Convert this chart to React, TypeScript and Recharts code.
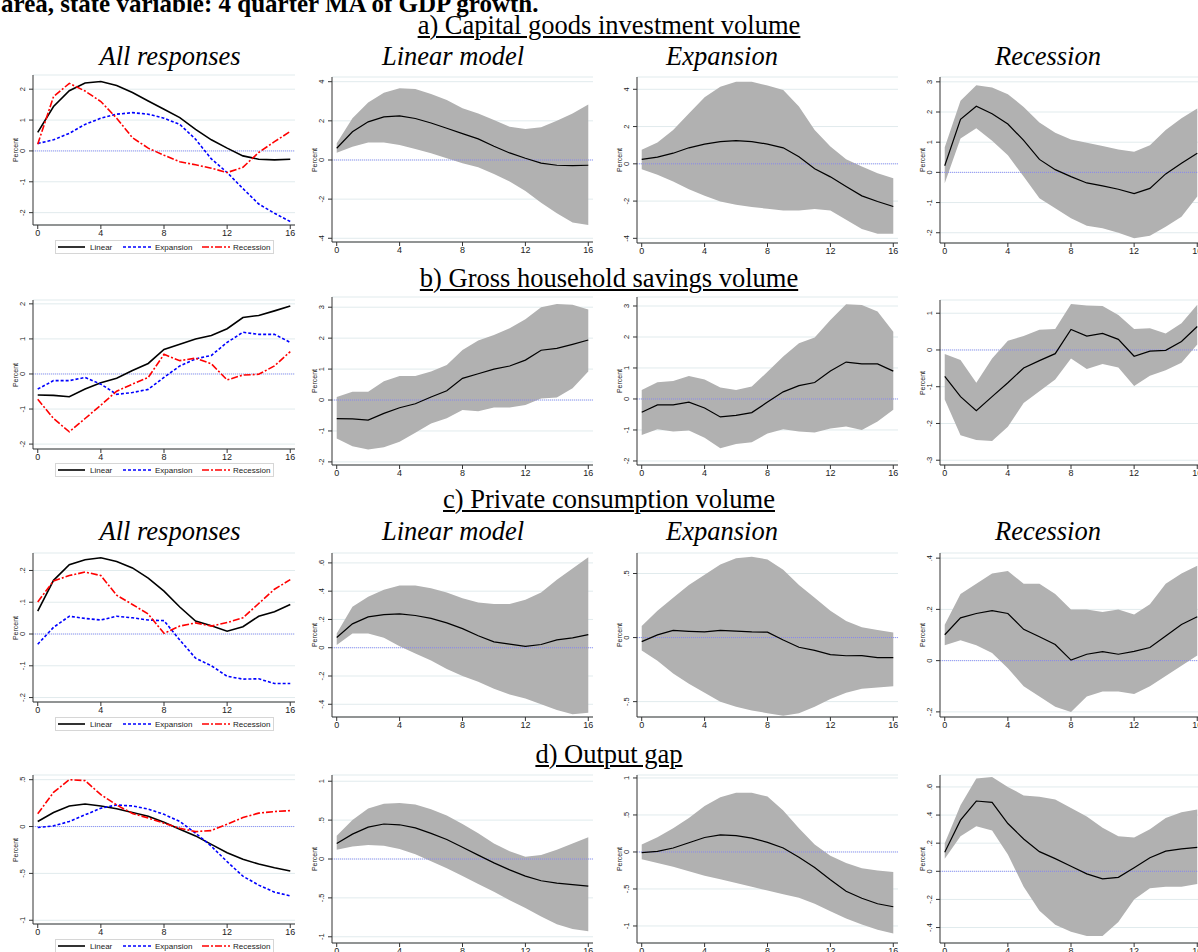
import React from 'react'
import { ComposedChart, Line, Area, XAxis, YAxis, CartesianGrid, ReferenceLine } from 'recharts'

// quarters after the shock
const horizon = [0, 1, 2, 3, 4, 5, 6, 7, 8, 9, 10, 11, 12, 13, 14, 15, 16]
const xTicks = [0, 4, 8, 12, 16]

// a) capital goods investment volume
const capLin = [0.6, 1.44, 1.95, 2.2, 2.25, 2.12, 1.89, 1.62, 1.35, 1.08, 0.7, 0.36, 0.09, -0.16, -0.27, -0.29, -0.27]
const capLinLo = [0.37, 0.68, 0.89, 0.89, 0.77, 0.56, 0.34, 0.09, -0.17, -0.37, -0.71, -1.1, -1.58, -2.18, -2.72, -3.2, -3.32]
const capLinHi = [0.85, 2.13, 2.94, 3.44, 3.66, 3.63, 3.37, 3.06, 2.64, 2.38, 2.04, 1.7, 1.58, 1.67, 2.0, 2.38, 2.84]
const capExp = [0.24, 0.36, 0.57, 0.86, 1.06, 1.19, 1.24, 1.19, 1.06, 0.86, 0.38, -0.26, -0.7, -1.22, -1.72, -2.02, -2.29]
const capExpLo = [-0.29, -0.59, -0.95, -1.36, -1.71, -2.02, -2.2, -2.32, -2.41, -2.5, -2.5, -2.43, -2.5, -3.0, -3.5, -3.75, -3.75]
const capExpHi = [0.75, 1.14, 1.82, 2.7, 3.57, 4.14, 4.4, 4.4, 4.2, 3.96, 3.07, 1.82, 0.93, 0.25, -0.14, -0.5, -0.77]
const capRec = [0.22, 1.76, 2.19, 1.94, 1.6, 1.06, 0.43, 0.09, -0.14, -0.35, -0.45, -0.56, -0.7, -0.53, -0.05, 0.3, 0.63]
const capRecLo = [-0.36, 1.12, 1.46, 1.05, 0.57, -0.14, -0.86, -1.19, -1.52, -1.77, -1.85, -2.0, -2.18, -2.1, -1.8, -1.47, -0.8]
const capRecHi = [0.83, 2.37, 2.89, 2.81, 2.59, 2.17, 1.65, 1.31, 1.09, 0.98, 0.87, 0.76, 0.68, 0.9, 1.4, 1.79, 2.12]

// b) gross household savings volume
const savLin = [-0.6, -0.61, -0.65, -0.43, -0.25, -0.12, 0.1, 0.3, 0.7, 0.85, 1.0, 1.1, 1.29, 1.61, 1.67, 1.8, 1.94]
const savLinLo = [-1.24, -1.49, -1.6, -1.53, -1.35, -1.06, -0.76, -0.59, -0.32, -0.36, -0.24, -0.24, -0.16, 0.05, 0.08, 0.38, 0.92]
const savLinHi = [0.1, 0.27, 0.27, 0.61, 0.78, 0.78, 0.92, 1.13, 1.62, 1.92, 2.1, 2.32, 2.61, 3.0, 3.1, 3.08, 2.93]
const savExp = [-0.43, -0.19, -0.19, -0.1, -0.29, -0.58, -0.53, -0.44, -0.1, 0.23, 0.43, 0.53, 0.9, 1.19, 1.13, 1.13, 0.9]
const savExpLo = [-1.16, -0.98, -1.05, -1.02, -1.25, -1.59, -1.45, -1.4, -1.11, -0.98, -1.05, -1.08, -0.95, -0.89, -1.0, -0.73, -0.35]
const savExpHi = [0.29, 0.54, 0.58, 0.74, 0.63, 0.37, 0.29, 0.4, 0.88, 1.37, 1.8, 1.98, 2.55, 3.06, 3.03, 2.82, 2.17]
const savRec = [-0.72, -1.27, -1.65, -1.27, -0.89, -0.49, -0.29, -0.1, 0.56, 0.38, 0.45, 0.29, -0.17, -0.03, -0.01, 0.23, 0.64]
const savRecLo = [-1.35, -2.32, -2.45, -2.48, -2.09, -1.44, -1.12, -0.8, -0.23, -0.52, -0.38, -0.48, -0.98, -0.7, -0.55, -0.35, 0.15]
const savRecHi = [-0.11, -0.27, -0.89, -0.23, 0.25, 0.38, 0.55, 0.57, 1.25, 1.21, 1.2, 0.95, 0.57, 0.59, 0.45, 0.73, 1.23]

// c) private consumption volume
const conLin = [0.072, 0.169, 0.218, 0.234, 0.24, 0.228, 0.208, 0.176, 0.135, 0.085, 0.041, 0.026, 0.009, 0.023, 0.056, 0.07, 0.093]
const conLinLo = [0.02, 0.1, 0.1, 0.07, 0.01, -0.04, -0.09, -0.15, -0.2, -0.24, -0.29, -0.33, -0.36, -0.4, -0.44, -0.47, -0.46]
const conLinHi = [0.1, 0.29, 0.36, 0.41, 0.44, 0.44, 0.42, 0.39, 0.35, 0.32, 0.31, 0.31, 0.34, 0.39, 0.48, 0.56, 0.64]
const conExp = [-0.032, 0.021, 0.056, 0.049, 0.044, 0.056, 0.051, 0.044, 0.042, -0.019, -0.076, -0.1, -0.133, -0.142, -0.141, -0.156, -0.156]
const conExpLo = [-0.1, -0.18, -0.28, -0.36, -0.43, -0.5, -0.54, -0.57, -0.59, -0.61, -0.59, -0.54, -0.48, -0.43, -0.4, -0.39, -0.38]
const conExpHi = [0.09, 0.21, 0.31, 0.41, 0.49, 0.57, 0.62, 0.63, 0.61, 0.53, 0.41, 0.31, 0.21, 0.13, 0.08, 0.06, 0.04]
const conRec = [0.101, 0.167, 0.184, 0.195, 0.184, 0.122, 0.093, 0.063, 0.002, 0.025, 0.035, 0.025, 0.036, 0.051, 0.096, 0.141, 0.171]
const conRecLo = [0.06, 0.08, 0.06, 0.03, -0.03, -0.1, -0.14, -0.18, -0.2, -0.14, -0.12, -0.12, -0.13, -0.1, -0.06, -0.02, 0.02]
const conRecHi = [0.14, 0.26, 0.3, 0.34, 0.35, 0.3, 0.3, 0.26, 0.2, 0.2, 0.19, 0.2, 0.18, 0.22, 0.3, 0.34, 0.37]

// d) output gap
const gapLin = [0.054, 0.15, 0.22, 0.24, 0.22, 0.19, 0.15, 0.11, 0.046, -0.03, -0.1, -0.19, -0.28, -0.35, -0.4, -0.44, -0.475]
// linear-model panel of d) as read from its own axis
const gapLinModel = [0.2, 0.32, 0.41, 0.45, 0.44, 0.4, 0.33, 0.25, 0.15, 0.05, -0.05, -0.14, -0.22, -0.28, -0.31, -0.33, -0.35]
const gapLinLo = [0.12, 0.16, 0.18, 0.17, 0.13, 0.06, -0.03, -0.12, -0.22, -0.32, -0.42, -0.53, -0.63, -0.74, -0.84, -0.9, -0.93]
const gapLinHi = [0.3, 0.5, 0.65, 0.71, 0.72, 0.7, 0.64, 0.56, 0.45, 0.33, 0.2, 0.1, 0.03, 0.05, 0.12, 0.2, 0.28]
const gapExp = [-0.01, 0.007, 0.054, 0.125, 0.196, 0.23, 0.22, 0.186, 0.13, 0.054, -0.07, -0.21, -0.375, -0.53, -0.625, -0.7, -0.74]
const gapExpLo = [-0.1, -0.15, -0.2, -0.26, -0.32, -0.37, -0.42, -0.47, -0.52, -0.57, -0.62, -0.7, -0.8, -0.9, -0.98, -1.05, -1.1]
const gapExpHi = [0.1, 0.2, 0.32, 0.46, 0.62, 0.74, 0.8, 0.8, 0.75, 0.56, 0.32, 0.1, -0.05, -0.15, -0.22, -0.25, -0.27]
const gapRec = [0.136, 0.364, 0.5, 0.49, 0.34, 0.23, 0.14, 0.09, 0.036, -0.018, -0.054, -0.043, 0.025, 0.096, 0.143, 0.16, 0.17]
const gapRecLo = [0.09, 0.25, 0.32, 0.29, 0.12, -0.11, -0.28, -0.38, -0.43, -0.46, -0.46, -0.36, -0.2, -0.12, -0.11, -0.11, -0.09]
const gapRecHi = [0.2, 0.47, 0.66, 0.67, 0.6, 0.54, 0.53, 0.51, 0.45, 0.39, 0.31, 0.25, 0.24, 0.3, 0.38, 0.42, 0.44]

const makeAll = (lin: number[], exp: number[], rec: number[]) =>
  horizon.map((h, i) => ({ h, lin: lin[i], exp: exp[i], rec: rec[i] }))
const makeBand = (mid: number[], lo: number[], hi: number[]) =>
  horizon.map((h, i) => ({ h, mid: mid[i], band: [lo[i], hi[i]] }))

// stata style numbers: .2, -.5
const fmt = (v: number) => (v === 0 ? '0' : String(v).replace(/^(-?)0\./, '$1.'))

const SANS = 'Arial, "Liberation Sans", sans-serif'
const SERIF = '"Times New Roman", "Liberation Serif", serif'

function YTick(props: any) {
  const { x, y, payload } = props
  const bx = x - 3
  return (
    <text x={bx} y={y} transform={`rotate(-90 ${bx} ${y})`} textAnchor="middle" fontSize={7.5} fill="#222" fontFamily={SANS}>
      {fmt(payload.value)}
    </text>
  )
}

type PanelProps = {
  left: number
  top: number
  width: number
  height: number
  data: any[]
  domain: [number, number]
  ticks: number[]
  mode: 'all' | 'band'
}

function Panel({ left, top, width, height, data, domain, ticks, mode }: PanelProps) {
  const YW = 36, MT = 6, XH = 18, MR = 6
  return (
    <>
      <div style={{ position: 'absolute', left: left - YW, top: top - MT }}>
        <ComposedChart width={YW + width + MR} height={MT + height + XH} data={data} margin={{ top: MT, right: MR, bottom: 0, left: 0 }}>
          <CartesianGrid vertical={false} stroke="#e1ebed" />
          <XAxis dataKey="h" type="number" domain={[-0.3, 16.3]} ticks={xTicks} allowDataOverflow height={XH}
            tickSize={4} tickMargin={1} stroke="#333" tick={{ fontSize: 9, fill: '#222', fontFamily: SANS }} />
          <YAxis type="number" domain={domain} ticks={ticks} allowDataOverflow width={YW} interval={0}
            tickSize={4} tickMargin={1} stroke="#333" tick={<YTick />} />
          {mode === 'band' && (
            <Area dataKey="band" type="linear" stroke="none" fill="#b1b1b1" fillOpacity={1} isAnimationActive={false} />
          )}
          <ReferenceLine y={0} stroke="#7b7bff" strokeDasharray="1 1" strokeWidth={0.8} />
          {mode === 'band' && (
            <Line dataKey="mid" type="linear" stroke="#000" strokeWidth={1.2} dot={false} isAnimationActive={false} />
          )}
          {mode === 'all' && (
            <Line dataKey="lin" type="linear" stroke="#000" strokeWidth={1.6} dot={false} isAnimationActive={false} />
          )}
          {mode === 'all' && (
            <Line dataKey="exp" type="linear" stroke="#0000ff" strokeWidth={1.6} strokeDasharray="3 2" dot={false} isAnimationActive={false} />
          )}
          {mode === 'all' && (
            <Line dataKey="rec" type="linear" stroke="#ff0000" strokeWidth={1.6} strokeDasharray="7 2 2 2" dot={false} isAnimationActive={false} />
          )}
        </ComposedChart>
      </div>
      <div style={{
        position: 'absolute', left: left - 18, top: top + height / 2,
        transform: 'translate(-50%, -50%) rotate(-90deg)', fontFamily: SANS, fontSize: 7,
        color: '#222', whiteSpace: 'nowrap', lineHeight: '7px',
      }}>Percent</div>
    </>
  )
}

function SeriesKey({ top }: { top: number }) {
  return (
    <svg style={{ position: 'absolute', left: 55, top }} width={219} height={14}>
      <rect x={0.5} y={0.5} width={218} height={13} fill="#fff" stroke="#d6d6d6" />
      <line x1={3} x2={30} y1={7} y2={7} stroke="#000" strokeWidth={1.6} />
      <text x={35} y={10} fontSize={8} fontFamily={SANS} fill="#222">Linear</text>
      <line x1={68} x2={97} y1={7} y2={7} stroke="#0000ff" strokeWidth={1.6} strokeDasharray="3 2" />
      <text x={100} y={10} fontSize={8} fontFamily={SANS} fill="#222">Expansion</text>
      <line x1={147} x2={175} y1={7} y2={7} stroke="#ff0000" strokeWidth={1.6} strokeDasharray="7 2 2 2" />
      <text x={178} y={10} fontSize={8} fontFamily={SANS} fill="#222">Recession</text>
    </svg>
  )
}

function Heading({ text, top }: { text: string; top: number }) {
  return (
    <div style={{
      position: 'absolute', left: 609, top, transform: 'translateX(-50%)', whiteSpace: 'nowrap',
      fontFamily: SERIF, fontSize: 26.5, lineHeight: '26px', textDecoration: 'underline',
      textDecorationThickness: '1.8px', textUnderlineOffset: '2px', color: '#000',
    }}>{text}</div>
  )
}

function ColTitle({ text, x, top }: { text: string; x: number; top: number }) {
  return (
    <div style={{
      position: 'absolute', left: x, top, transform: 'translateX(-50%)', whiteSpace: 'nowrap',
      fontFamily: SERIF, fontStyle: 'italic', fontSize: 26.5, lineHeight: '26px', color: '#000',
    }}>{text}</div>
  )
}

const cols = [
  { left: 33, width: 262 },
  { left: 332, width: 261 },
  { left: 637, width: 261 },
  { left: 940, width: 262 },
]

export default function App() {
  return (
    <div style={{ position: 'absolute', left: 0, top: 0, width: 1198, height: 952, overflow: 'hidden', background: '#fff' }}>
      <div style={{
        position: 'absolute', left: 1, top: -9, whiteSpace: 'nowrap', fontFamily: SERIF, fontWeight: 'bold',
        fontSize: 25, lineHeight: '25px',
      }}>area, state variable: 4 quarter MA of GDP growth.</div>

      <Heading text="a) Capital goods investment volume" top={12} />
      <ColTitle text="All responses" x={170} top={43} />
      <ColTitle text="Linear model" x={453} top={43} />
      <ColTitle text="Expansion" x={722} top={43} />
      <ColTitle text="Recession" x={1048} top={43} />

      <Panel {...cols[0]} top={75} height={150} mode="all" data={makeAll(capLin, capExp, capRec)} domain={[-2.4, 2.46]} ticks={[-2, -1, 0, 1, 2]} />
      <SeriesKey top={240} />
      <Panel {...cols[1]} top={77} height={165} mode="band" data={makeBand(capLin, capLinLo, capLinHi)} domain={[-4.19, 4.24]} ticks={[-4, -2, 0, 2, 4]} />
      <Panel {...cols[2]} top={77} height={166} mode="band" data={makeBand(capExp, capExpLo, capExpHi)} domain={[-4.25, 4.66]} ticks={[-4, -2, 0, 2, 4]} />
      <Panel {...cols[3]} top={77} height={166} mode="band" data={makeBand(capRec, capRecLo, capRecHi)} domain={[-2.34, 3.16]} ticks={[-2, -1, 0, 1, 2, 3]} />

      <Heading text="b) Gross household savings volume" top={265} />
      <Panel {...cols[0]} top={300} height={149} mode="all" data={makeAll(savLin, savExp, savRec)} domain={[-2.14, 2.11]} ticks={[-2, -1, 0, 1, 2]} />
      <SeriesKey top={463} />
      <Panel {...cols[1]} top={297} height={168} mode="band" data={makeBand(savLin, savLinLo, savLinHi)} domain={[-2.1, 3.33]} ticks={[-2, -1, 0, 1, 2, 3]} />
      <Panel {...cols[2]} top={297} height={168} mode="band" data={makeBand(savExp, savExpLo, savExpHi)} domain={[-2.13, 3.29]} ticks={[-2, -1, 0, 1, 2, 3]} />
      <Panel {...cols[3]} top={300} height={165} mode="band" data={makeBand(savRec, savRecLo, savRecHi)} domain={[-3.13, 1.36]} ticks={[-3, -2, -1, 0, 1]} />

      <Heading text="c) Private consumption volume" top={486} />
      <ColTitle text="All responses" x={170} top={518} />
      <ColTitle text="Linear model" x={453} top={518} />
      <ColTitle text="Expansion" x={722} top={518} />
      <ColTitle text="Recession" x={1048} top={518} />

      <Panel {...cols[0]} top={553} height={149} mode="all" data={makeAll(conLin, conExp, conRec)} domain={[-0.214, 0.255]} ticks={[-0.2, -0.1, 0, 0.1, 0.2]} />
      <SeriesKey top={717} />
      <Panel {...cols[1]} top={553} height={164} mode="band" data={makeBand(conLin, conLinLo, conLinHi)} domain={[-0.49, 0.67]} ticks={[-0.4, -0.2, 0, 0.2, 0.4, 0.6]} />
      <Panel {...cols[2]} top={553} height={164} mode="band" data={makeBand(conExp, conExpLo, conExpHi)} domain={[-0.62, 0.66]} ticks={[-0.5, 0, 0.5]} />
      <Panel {...cols[3]} top={553} height={164} mode="band" data={makeBand(conRec, conRecLo, conRecHi)} domain={[-0.22, 0.42]} ticks={[-0.2, 0, 0.2, 0.4]} />

      <Heading text="d) Output gap" top={741} />
      <Panel {...cols[0]} top={775} height={149} mode="all" data={makeAll(gapLin, gapExp, gapRec)} domain={[-1.04, 0.55]} ticks={[-1, -0.5, 0, 0.5]} />
      <SeriesKey top={939} />
      <Panel {...cols[1]} top={775} height={168} mode="band" data={makeBand(gapLinModel, gapLinLo, gapLinHi)} domain={[-1.08, 1.08]} ticks={[-1, -0.5, 0, 0.5, 1]} />
      <Panel {...cols[2]} top={775} height={168} mode="band" data={makeBand(gapExp, gapExpLo, gapExpHi)} domain={[-1.23, 1.04]} ticks={[-1, -0.5, 0, 0.5, 1]} />
      <Panel {...cols[3]} top={775} height={168} mode="band" data={makeBand(gapRec, gapRecLo, gapRecHi)} domain={[-0.51, 0.685]} ticks={[-0.4, -0.2, 0, 0.2, 0.4, 0.6]} />
    </div>
  )
}
